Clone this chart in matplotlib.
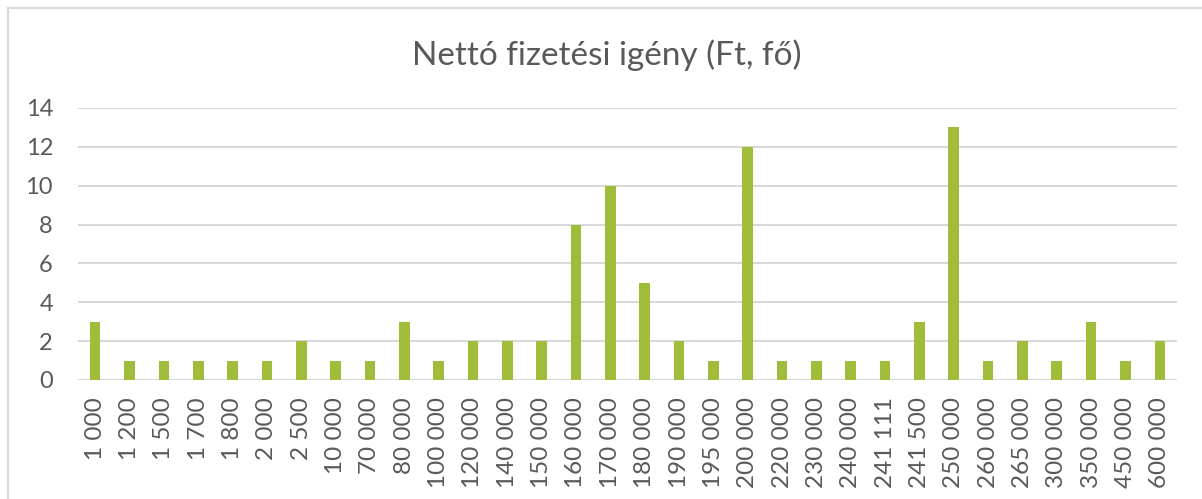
import matplotlib
matplotlib.use("Agg")
import matplotlib.pyplot as plt
from matplotlib.patches import Rectangle

categories = ["1 000", "1 200", "1 500", "1 700", "1 800", "2 000", "2 500", "10 000",
              "70 000", "80 000", "100 000", "120 000", "140 000", "150 000", "160 000",
              "170 000", "180 000", "190 000", "195 000", "200 000", "220 000", "230 000",
              "240 000", "241 111", "241 500", "250 000", "260 000", "265 000", "300 000",
              "350 000", "450 000", "600 000"]
values = [3, 1, 1, 1, 1, 1, 2, 1, 1, 3, 1, 2, 2, 2, 8, 10, 5, 2, 1, 12, 1, 1, 1, 1,
          3, 13, 1, 2, 1, 3, 1, 2]
yticks = [0, 2, 4, 6, 8, 10, 12, 14]
title = "Nettó fizetési igény (Ft, fő)"

plt.rcParams['font.family'] = ['Lato', 'DejaVu Sans']
txt = '#595959'
W, H = 1202, 499
fig = plt.figure(figsize=(W/100, H/100), dpi=100)
fig.patches.append(Rectangle((8/W, -0.1), 1.2, 1 - 8/H + 0.1, transform=fig.transFigure,
                             fill=False, edgecolor='#D9D9D9', linewidth=1.5))

ax = fig.add_axes([78/W, 1 - 380/H, (1177-78)/W, (380-108)/H])
x = range(len(categories))
ax.bar(x, values, width=0.31, color='#9FBC3A', zorder=3)
ax.set_xlim(-0.5, len(categories) - 0.5)
ax.set_ylim(0, 14)
ax.set_yticks(yticks)
ax.set_xticks(list(x))
ax.set_xticklabels(categories, rotation=90, fontsize=17.5, color=txt)
ax.tick_params(axis='y', labelsize=17, labelcolor=txt, length=0, pad=18)
ax.tick_params(axis='x', length=0, pad=12.5)
ax.grid(axis='y', color='#D9D9D9', linewidth=1.5, zorder=0)
for s in ax.spines.values():
    s.set_visible(False)
fig.text(607/W, 1 - 55/H, title, ha='center', va='center', fontsize=24, color=txt)
fig.savefig('out.png', dpi=100)
